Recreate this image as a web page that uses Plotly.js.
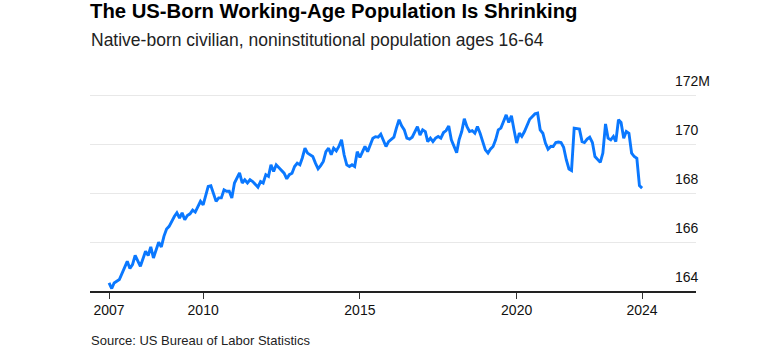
<!DOCTYPE html>
<html>
<head>
<meta charset="utf-8">
<script src="https://cdn.plot.ly/plotly-3.0.1.min.js"></script>
<style>
  html, body { margin: 0; padding: 0; background: #fff; }
  #chart { width: 764px; height: 355px; }
</style>
</head>
<body>
<div id="chart"></div>
<script>
const months = [
  '2007-01','2007-02','2007-03','2007-05','2007-08','2007-09','2007-10','2007-11',
  '2008-01','2008-03','2008-04','2008-05','2008-06','2008-08','2008-09','2008-10','2008-11','2008-12',
  '2009-02','2009-03','2009-04','2009-05','2009-06','2009-07','2009-08','2009-09','2009-10','2009-12',
  '2010-01','2010-03','2010-04','2010-06','2010-07','2010-08','2010-09','2010-10','2010-11','2010-12',
  '2011-01','2011-03','2011-04','2011-05','2011-06','2011-07','2011-08','2011-10','2011-11','2011-12',
  '2012-01','2012-02','2012-03','2012-04','2012-05','2012-07','2012-08','2012-09','2012-10','2012-11','2012-12',
  '2013-01','2013-02','2013-03','2013-04','2013-05','2013-07','2013-08','2013-09','2013-10','2013-11','2013-12',
  '2014-01','2014-02','2014-03','2014-04','2014-05','2014-06','2014-07','2014-08','2014-09','2014-10','2014-11','2014-12',
  '2015-01','2015-02','2015-03','2015-04','2015-05','2015-06','2015-07','2015-08','2015-09','2015-10','2015-11','2015-12',
  '2016-02','2016-03','2016-04','2016-05','2016-06','2016-07','2016-08','2016-09','2016-11','2016-12',
  '2017-01','2017-02','2017-03','2017-04','2017-05','2017-06','2017-07','2017-08','2017-09','2017-10','2017-11','2017-12',
  '2018-02','2018-03','2018-04','2018-05','2018-06','2018-07','2018-08','2018-09','2018-10','2018-11','2018-12',
  '2019-01','2019-02','2019-03','2019-04','2019-05','2019-06','2019-07','2019-08','2019-09','2019-10','2019-11','2019-12',
  '2020-01','2020-02','2020-03','2020-04','2020-05','2020-06','2020-08','2020-09','2020-10','2020-11','2020-12',
  '2021-01','2021-02','2021-03','2021-04','2021-05','2021-06','2021-07','2021-08','2021-09','2021-10','2021-11',
  '2022-01','2022-02','2022-03','2022-04','2022-05','2022-06','2022-07','2022-09','2022-10','2022-11','2022-12',
  '2023-01','2023-02','2023-03','2023-04','2023-05','2023-06','2023-07','2023-08','2023-09','2023-10','2023-11','2023-12',
  '2024-01'
];

// Native-born civilian noninstitutional population ages 16-64, millions
const population = [
  164.33,164.10,164.33,164.47,165.21,164.92,165.08,165.45,
  165.01,165.62,165.45,165.80,165.35,165.99,165.80,166.23,166.53,166.64,
  167.05,167.19,166.98,167.19,166.91,167.08,167.15,167.30,167.22,167.66,
  167.52,168.27,168.30,167.66,167.80,167.80,168.13,168.07,168.07,167.80,
  168.41,168.82,168.41,168.54,168.41,168.54,168.47,168.24,168.47,168.41,
  168.75,168.68,169.15,168.88,169.15,168.92,168.81,168.58,168.75,168.81,169.08,
  169.22,169.15,169.43,169.83,169.63,169.49,169.22,168.99,169.12,169.29,169.69,
  169.83,169.56,169.83,169.72,169.90,170.17,169.56,169.15,169.08,169.15,169.08,169.69,
  169.45,169.69,169.90,169.69,169.93,170.24,170.30,170.28,170.40,170.17,169.90,170.10,
  170.28,170.65,170.99,170.74,170.58,170.24,170.20,170.28,170.71,170.37,
  170.58,170.51,170.10,170.24,170.10,170.24,170.31,170.24,170.47,170.55,170.74,170.17,
  169.65,170.17,170.51,171.03,170.71,170.51,170.55,170.44,170.71,170.44,170.10,
  169.76,169.63,169.79,169.90,170.17,170.58,170.65,170.92,171.19,170.88,171.15,170.58,
  170.04,170.44,170.31,170.51,170.78,171.01,171.23,171.26,170.58,170.44,170.04,
  169.79,169.90,169.90,170.06,170.08,170.06,169.87,169.36,168.98,168.92,170.65,
  170.61,170.10,170.06,170.20,170.28,170.06,169.49,169.25,169.63,170.82,170.24,
  170.17,170.31,170.10,170.99,170.88,170.24,170.51,170.44,169.63,169.49,169.42,168.30,
  168.20
];

const xTickVals = ['2007-01-01','2010-01-01','2015-01-01','2020-01-01','2024-01-01'];
const xTickText = ['2007','2010','2015','2020','2024'];
const yTickVals = [164, 166, 168, 170, 172];
const yTickText = ['164', '166', '168', '170', '172M'];

const titleText = 'The US-Born Working-Age Population Is Shrinking';
const subtitleText = 'Native-born civilian, noninstitutional population ages 16-64';
const sourceText = 'Source: US Bureau of Labor Statistics';

const FONT = 'Liberation Sans, Arial, Helvetica, sans-serif';

const trace = {
  x: months,
  y: population,
  type: 'scatter',
  mode: 'lines',
  line: { color: '#0a78ff', width: 2.9, shape: 'linear' },
  hoverinfo: 'x+y',
  cliponaxis: false
};

const annotations = yTickVals.map((v, i) => ({
  text: yTickText[i],
  xref: 'paper', x: 0.962, xanchor: 'left',
  yref: 'y', y: v, yanchor: 'middle', yshift: 14,
  showarrow: false,
  font: { family: FONT, size: 14, color: '#111' }
}));

annotations.push({
  text: subtitleText,
  xref: 'paper', x: 0, xanchor: 'left', xshift: -1,
  yref: 'paper', y: 1, yanchor: 'middle', yshift: 45,
  showarrow: false,
  font: { family: FONT, size: 17.5, color: '#222' }
});
annotations.push({
  text: sourceText,
  xref: 'paper', x: 0, xanchor: 'left', xshift: -1,
  yref: 'paper', y: 0, yanchor: 'middle', yshift: -49,
  showarrow: false,
  font: { family: FONT, size: 13, color: '#222' }
});

const layout = {
  width: 764, height: 355,
  margin: { l: 90, r: 68, t: 85, b: 64, pad: 0 },
  paper_bgcolor: '#fff', plot_bgcolor: '#fff',
  showlegend: false,
  title: {
    text: '<b>' + titleText + '</b>',
    xref: 'paper', x: 0, xanchor: 'left',
    yref: 'container', y: 1, yanchor: 'top', pad: { t: 4, l: 0 },
    font: { family: FONT, size: 20.3, color: '#000' }
  },
  xaxis: {
    type: 'date',
    range: ['2006-05-24', '2025-09-20'],
    tickmode: 'array', tickvals: xTickVals, ticktext: xTickText,
    ticks: 'outside', ticklen: 6, tickwidth: 1, tickcolor: '#333',
    showline: true, linecolor: '#222', linewidth: 1.5,
    showgrid: false, zeroline: false,
    tickfont: { family: FONT, size: 14, color: '#111' },
    fixedrange: true
  },
  yaxis: {
    range: [164, 172.41],
    tickmode: 'array', tickvals: yTickVals,
    showticklabels: false, ticks: '',
    showgrid: true, gridcolor: '#e8e8e8', gridwidth: 1,
    zeroline: false, showline: false,
    fixedrange: true
  },
  annotations: annotations
};

Plotly.newPlot('chart', [trace], layout, { displayModeBar: false, staticPlot: true });
</script>
</body>
</html>
